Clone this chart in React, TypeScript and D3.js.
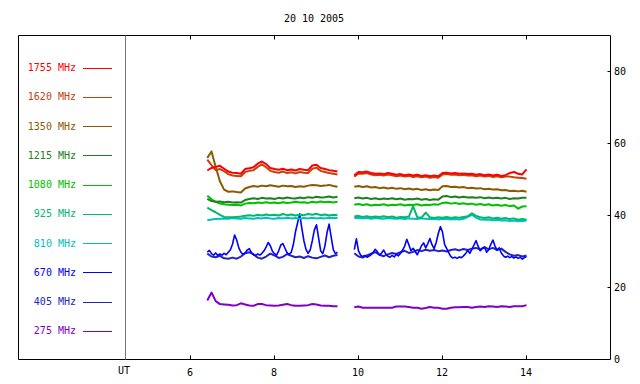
import React from "react";
import * as d3 from "d3";

// ---- data ----
const TITLE = "20 10 2005";
const FREQS = ["1755", "1620", "1350", "1215", "1080", "925", "810", "670", "405", "275"];
const COLORS = ["#ff0000", "#c8400a", "#8c5a00", "#208020", "#00c000", "#00b870", "#00c0c0", "#0000ff", "#2424c0", "#8000c8"];
const X_TICKS = [6, 8, 10, 12, 14];
const Y_TICKS = [0, 20, 40, 60, 80];

// segment sampling (hours)
const SEG1_START = 6.4;
const SEG2_START = 9.9;
const STEP_COARSE = 0.1;
const STEP_FINE = 0.05;

// 0.1 h samples, segment 1 (6.4 .. 9.5) and segment 2 (9.9 .. 14.0)
const f1755a = [52.5, 53.2, 53.5, 53.8, 53.0, 52.2, 51.9, 51.8, 51.6, 52.9, 53.1, 53.4, 54.4, 55.0, 54.3, 53.2, 52.9, 52.7, 53.0, 52.6, 52.8, 52.5, 52.9, 52.7, 52.6, 53.9, 54.1, 53.2, 52.9, 52.6, 52.4, 52.2];
const f1755b = [51.2, 52.1, 52.0, 52.2, 51.8, 51.6, 51.7, 51.5, 51.8, 51.6, 51.3, 51.5, 51.2, 51.4, 51.1, 51.3, 51.0, 51.2, 50.9, 51.1, 50.9, 51.8, 51.9, 51.7, 51.8, 51.6, 51.7, 51.5, 51.6, 51.3, 51.5, 51.2, 51.4, 51.1, 51.3, 51.0, 51.2, 51.8, 52.1, 51.6, 51.4, 52.8];
const f1620a = [55.5, 54.0, 52.6, 52.9, 52.3, 51.5, 51.1, 51.0, 50.9, 52.1, 52.4, 52.6, 53.5, 54.2, 53.4, 52.4, 52.1, 51.9, 52.2, 51.8, 52.0, 51.7, 52.1, 51.9, 51.8, 53.0, 53.3, 52.4, 52.1, 51.8, 51.6, 51.4];
const f1620b = [50.8, 51.7, 51.6, 51.8, 51.4, 51.2, 51.3, 51.1, 51.4, 51.2, 50.9, 51.1, 50.8, 51.0, 50.7, 50.9, 50.6, 50.8, 50.5, 50.7, 50.5, 51.4, 51.5, 51.3, 51.4, 51.2, 51.3, 51.1, 51.2, 50.9, 51.1, 50.8, 51.0, 50.7, 50.9, 50.6, 50.8, 50.8, 50.6, 50.5, 50.4, 50.2];
const f1350a = [56.0, 57.8, 53.5, 49.5, 47.2, 46.6, 46.7, 46.5, 46.4, 47.5, 47.9, 48.2, 48.0, 48.3, 48.1, 48.4, 48.2, 48.0, 48.3, 48.1, 48.2, 47.9, 48.1, 48.0, 48.3, 48.5, 48.4, 48.2, 48.3, 48.5, 48.2, 48.0];
const f1350b = [48.0, 48.2, 47.9, 48.1, 47.8, 47.9, 47.6, 47.8, 47.5, 47.7, 47.4, 47.6, 47.3, 47.5, 47.2, 47.4, 47.1, 47.3, 47.0, 47.2, 47.1, 48.1, 48.2, 47.9, 48.0, 47.8, 47.9, 47.6, 47.7, 47.5, 47.6, 47.3, 47.4, 47.2, 47.3, 47.0, 47.1, 46.8, 46.9, 46.7, 46.9, 46.6];
const f1215a = [44.6, 44.0, 43.8, 43.9, 43.7, 43.8, 43.6, 43.7, 43.6, 44.3, 44.6, 44.8, 44.6, 44.9, 44.7, 44.8, 44.6, 44.9, 44.7, 45.0, 44.8, 44.7, 45.0, 44.8, 45.1, 44.9, 45.2, 45.0, 45.1, 45.3, 45.0, 45.2];
const f1215b = [44.8, 45.0, 44.7, 44.9, 44.6, 44.8, 44.5, 44.7, 44.6, 44.8, 44.5, 44.7, 44.4, 44.6, 44.5, 44.7, 44.4, 44.6, 44.3, 44.5, 44.4, 45.3, 45.4, 45.1, 45.3, 45.0, 45.2, 45.0, 45.1, 44.9, 45.1, 44.8, 45.0, 44.8, 44.9, 44.7, 44.9, 44.6, 44.8, 44.7, 44.9, 44.9];
const f1080a = [45.5, 44.5, 43.8, 43.3, 43.1, 43.0, 42.9, 43.0, 42.8, 43.3, 43.5, 43.4, 43.6, 43.5, 43.7, 43.5, 43.6, 43.4, 43.7, 43.5, 43.6, 43.8, 43.6, 43.7, 43.5, 43.8, 43.6, 43.9, 43.7, 43.8, 43.6, 43.8];
const f1080b = [43.0, 43.2, 42.9, 43.1, 42.8, 43.0, 42.9, 43.1, 42.8, 43.0, 42.9, 43.1, 42.8, 43.0, 42.9, 43.1, 42.8, 43.0, 42.9, 43.1, 43.0, 43.5, 43.6, 43.3, 43.5, 43.2, 43.4, 43.1, 43.3, 43.0, 43.2, 42.9, 43.1, 42.8, 43.0, 42.7, 42.9, 42.6, 42.8, 41.9, 42.5, 42.6];
const f925a = [42.2, 41.5, 40.9, 40.2, 39.6, 39.5, 39.5, 39.6, 39.7, 39.9, 40.1, 39.9, 40.2, 40.0, 40.3, 40.1, 40.2, 40.0, 40.4, 40.1, 40.3, 40.0, 40.2, 40.1, 40.4, 40.2, 40.5, 40.1, 40.3, 40.0, 40.2, 40.1];
const f925b = [39.7, 39.9, 39.6, 39.8, 39.5, 39.7, 39.6, 39.8, 39.5, 39.7, 39.4, 39.6, 39.5, 39.7, 42.6, 39.5, 39.4, 40.8, 39.5, 39.3, 39.5, 39.4, 39.6, 39.3, 39.5, 39.4, 39.6, 39.8, 40.6, 39.9, 39.5, 39.3, 39.5, 39.2, 39.4, 39.1, 39.3, 39.0, 39.2, 38.8, 39.0, 38.8];
const f810a = [38.7, 38.9, 39.0, 39.1, 39.2, 39.1, 39.3, 39.2, 39.1, 39.3, 39.2, 39.1, 39.3, 39.2, 39.4, 39.2, 39.1, 39.3, 39.2, 39.4, 39.2, 39.3, 39.1, 39.3, 39.2, 39.4, 39.2, 39.3, 39.2, 39.4, 39.3, 39.3];
const f810b = [39.3, 39.4, 39.2, 39.3, 39.1, 39.3, 39.2, 39.1, 39.3, 39.2, 39.1, 39.2, 39.0, 39.2, 39.1, 39.0, 39.2, 39.1, 39.0, 39.1, 38.9, 39.1, 39.0, 38.9, 39.0, 38.9, 39.1, 39.6, 40.2, 39.4, 38.9, 38.8, 38.9, 38.7, 38.8, 38.6, 38.7, 38.5, 38.6, 38.4, 38.5, 38.6];
const f405a = [29.4, 28.6, 28.4, 28.8, 28.1, 28.0, 28.3, 28.0, 28.6, 29.5, 29.8, 29.2, 28.3, 28.0, 28.6, 29.4, 28.9, 28.2, 28.5, 29.3, 28.8, 28.4, 28.6, 28.2, 28.7, 28.3, 28.1, 28.5, 28.9, 28.4, 28.8, 29.0];
const f405b = [29.5, 28.6, 28.3, 28.9, 29.4, 29.8, 29.1, 28.7, 29.2, 29.6, 29.3, 29.8, 30.2, 29.6, 29.9, 30.4, 30.1, 30.5, 30.2, 30.4, 30.1, 30.3, 30.0, 30.4, 30.6, 30.3, 30.7, 30.4, 30.8, 31.0, 30.5, 31.2, 30.6, 31.0, 30.4, 30.8, 29.9, 29.2, 28.8, 29.0, 28.6, 28.9];
const f275a = [16.4, 18.6, 16.2, 15.4, 15.3, 15.2, 15.0, 15.1, 15.6, 15.3, 15.0, 14.9, 15.4, 15.4, 15.1, 15.0, 14.9, 15.0, 15.2, 15.4, 15.1, 14.9, 14.9, 15.0, 15.1, 15.4, 15.3, 15.0, 14.9, 14.9, 14.8, 14.8];
const f275b = [14.5, 14.7, 14.4, 14.4, 14.4, 14.4, 14.4, 14.4, 14.4, 14.4, 14.7, 14.7, 14.7, 14.6, 14.4, 14.4, 14.1, 14.3, 14.6, 14.4, 14.4, 14.1, 14.1, 14.4, 14.5, 14.5, 14.6, 14.6, 14.4, 14.6, 14.7, 14.6, 14.8, 14.7, 14.6, 14.8, 14.7, 14.6, 14.8, 14.8, 14.8, 15.1];

// 0.05 h samples for 670 MHz
const f670a = [
  29.8, 30.3, 29.4, 29.0, 29.6, 28.9, 29.3, 29.0, 29.5, 29.1,
  29.8, 30.5, 32.0, 34.6, 33.2, 31.0, 29.8, 29.2, 29.6, 30.4,
  30.8, 29.7, 29.1, 28.9, 29.3, 29.0, 29.5, 30.2, 31.2, 32.5,
  31.6, 30.1, 29.4, 29.0, 30.2, 31.8, 32.2, 30.9, 29.6, 29.2,
  29.8, 32.0, 35.5, 38.0, 40.5, 36.5, 33.0, 30.6, 29.5, 30.4,
  33.0, 36.0, 37.4, 33.8, 30.2, 29.4, 31.5, 35.2, 37.6, 34.0,
  30.5, 29.4, 29.8,
];
const f670b = [
  30.5, 33.5, 30.2, 29.0, 28.6, 28.9, 28.4, 28.7, 29.1, 29.8,
  30.6, 29.9, 29.0, 29.6, 30.4, 29.3, 28.7, 28.4, 28.9, 28.5,
  29.2, 28.8, 29.5, 30.4, 31.5, 33.4, 31.8, 30.2, 30.9, 30.0,
  29.1, 30.3, 31.6, 32.4, 31.0, 32.2, 33.6, 31.9, 30.8, 32.5,
  35.0, 36.9, 35.4, 32.0, 30.8, 29.6, 28.6, 28.2, 28.4, 28.1,
  28.5, 28.3, 28.8, 29.4, 30.3, 29.5, 30.6, 31.8, 33.0, 31.4,
  30.2, 30.9, 31.2, 29.8, 30.5, 32.0, 33.2, 31.5, 30.4, 31.0,
  29.6, 28.8, 28.4, 28.7, 28.3, 28.6, 28.2, 28.5, 28.1, 28.4,
  27.9, 28.3, 28.6,
];

type Seg = { start: number; step: number; values: number[] };
const SERIES: { name: string; segs: Seg[] }[] = [
  { name: "275", segs: [{ start: SEG1_START, step: STEP_COARSE, values: f275a }, { start: SEG2_START, step: STEP_COARSE, values: f275b }] },
  { name: "405", segs: [{ start: SEG1_START, step: STEP_COARSE, values: f405a }, { start: SEG2_START, step: STEP_COARSE, values: f405b }] },
  { name: "670", segs: [{ start: SEG1_START, step: STEP_FINE, values: f670a }, { start: SEG2_START, step: STEP_FINE, values: f670b }] },
  { name: "810", segs: [{ start: SEG1_START, step: STEP_COARSE, values: f810a }, { start: SEG2_START, step: STEP_COARSE, values: f810b }] },
  { name: "925", segs: [{ start: SEG1_START, step: STEP_COARSE, values: f925a }, { start: SEG2_START, step: STEP_COARSE, values: f925b }] },
  { name: "1080", segs: [{ start: SEG1_START, step: STEP_COARSE, values: f1080a }, { start: SEG2_START, step: STEP_COARSE, values: f1080b }] },
  { name: "1215", segs: [{ start: SEG1_START, step: STEP_COARSE, values: f1215a }, { start: SEG2_START, step: STEP_COARSE, values: f1215b }] },
  { name: "1350", segs: [{ start: SEG1_START, step: STEP_COARSE, values: f1350a }, { start: SEG2_START, step: STEP_COARSE, values: f1350b }] },
  { name: "1620", segs: [{ start: SEG1_START, step: STEP_COARSE, values: f1620a }, { start: SEG2_START, step: STEP_COARSE, values: f1620b }] },
  { name: "1755", segs: [{ start: SEG1_START, step: STEP_COARSE, values: f1755a }, { start: SEG2_START, step: STEP_COARSE, values: f1755b }] },
];

const W = 640;
const H = 384;
const FRAME_L = 18.5;
const FRAME_T = 35.5;
const FRAME_R = 610.5;
const FRAME_B = 359.5;
const UT_X = 125.5;
const FONT = "'DejaVu Sans Mono', monospace";

export default function App() {
  const x = d3.scaleLinear().domain([6, 14]).range([190.5, 526.5]);
  const y = d3.scaleLinear().domain([0, 90]).range([FRAME_B, FRAME_T]);
  const line = d3
    .line<[number, number]>()
    .x((d) => x(d[0]))
    .y((d) => y(d[1]));

  const colorOf = (name: string) => COLORS[FREQS.indexOf(name)];

  return (
    <svg
      width={W}
      height={H}
      style={{ position: "absolute", left: 0, top: 0, background: "#fff" }}
      fontFamily={FONT}
      fontSize={10}
    >
      <rect x={0} y={0} width={W} height={H} fill="#fff" />
      <text x={314} y={22} textAnchor="middle" fill="#000">
        {TITLE}
      </text>

      {/* frame */}
      <path
        d={`M${FRAME_L},${FRAME_B}V${FRAME_T}H${FRAME_R}V${FRAME_B}H${FRAME_L}`}
        fill="none"
        stroke="#000"
        strokeWidth={1}
      />
      <line x1={UT_X} x2={UT_X} y1={FRAME_T} y2={FRAME_B} stroke="#777" strokeWidth={1} />

      {/* x ticks */}
      {X_TICKS.map((t) => (
        <g key={t}>
          <line x1={x(t)} x2={x(t)} y1={FRAME_T} y2={FRAME_T + 4} stroke="#000" />
          <line x1={x(t)} x2={x(t)} y1={FRAME_B} y2={FRAME_B - 4} stroke="#000" />
          <text x={x(t) - 0.5} y={376} textAnchor="middle" fill="#000">
            {t}
          </text>
        </g>
      ))}
      <text x={124} y={374} textAnchor="middle" fill="#000">
        UT
      </text>

      {/* y ticks (right) */}
      {Y_TICKS.map((t) => (
        <g key={t}>
          {t > 0 && <line x1={FRAME_R - 3} x2={FRAME_R} y1={y(t)} y2={y(t)} stroke="#000" />}
          <text x={614} y={y(t) + 3.5} textAnchor="start" fill="#000">
            {t}
          </text>
        </g>
      ))}

      {/* legend */}
      {FREQS.map((f, i) => {
        const ly = 67.5 + i * 29.25;
        return (
          <g key={f}>
            <text x={76} y={ly + 3.5} textAnchor="end" fill={COLORS[i]}>
              {`${f} MHz`}
            </text>
            <line x1={83} x2={112} y1={Math.round(ly) + 0.5} y2={Math.round(ly) + 0.5} stroke={COLORS[i]} strokeWidth={1} />
          </g>
        );
      })}

      {/* data */}
      {SERIES.map((s) =>
        s.segs.map((seg, j) => {
          const pts: [number, number][] = seg.values.map((v, k) => [seg.start + k * seg.step, v]);
          const fine = seg.step < 0.08;
          return (
            <path
              key={s.name + j}
              d={line(pts) || ""}
              fill="none"
              stroke={colorOf(s.name)}
              strokeWidth={fine ? 1.6 : 2}
              strokeLinejoin="round"
            />
          );
        })
      )}
    </svg>
  );
}
